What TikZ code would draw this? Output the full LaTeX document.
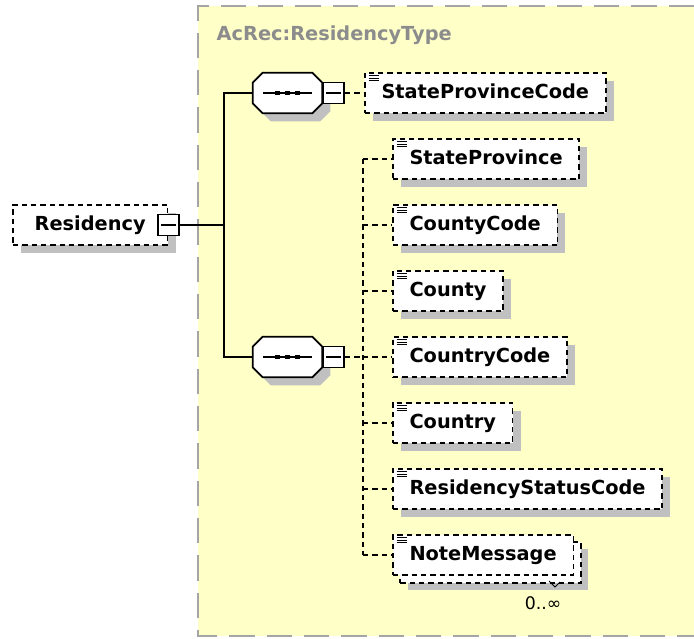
\documentclass[tikz,border=0pt]{standalone}
\usepackage{fontspec}
\setmainfont{DejaVu Sans}
\usepackage{tikz}
\usetikzlibrary{shadows}
\definecolor{schemabg}{RGB}{255,255,200}
\definecolor{shadowgray}{RGB}{192,192,192}
\definecolor{framegray}{RGB}{165,165,165}
\definecolor{titlegray}{RGB}{140,140,140}
\newcommand{\elemfont}{\fontsize{14.5}{17}\selectfont\bfseries}
\newcommand{\octopath}[1]{([xshift=7.5pt]#1.north west) -- ([xshift=-7.5pt]#1.north east) -- ([yshift=-7.5pt]#1.north east)
	-- ([yshift=7.5pt]#1.south east) -- ([xshift=-7.5pt]#1.south east) -- ([xshift=7.5pt]#1.south west)
	-- ([yshift=7.5pt]#1.south west) -- ([yshift=-7.5pt]#1.north west) -- cycle}
\newcommand{\seqshape}[1]{%
	\begin{scope}[transform canvas={xshift=6pt, yshift=-6pt}]
		\fill[shadowgray] \octopath{#1};
	\end{scope}
	\draw[line width=1.3pt, fill=white] \octopath{#1};
	\draw[line width=1.2pt] ([xshift=-18.4pt]#1.center) -- ([xshift=18.4pt]#1.center);
	\foreach \d in {-7.5pt,0pt,7.5pt}
		\fill ([xshift=\d-1.7pt, yshift=-1.7pt]#1.center) rectangle ++(3.4pt,3.4pt);}

\begin{document}
\begin{tikzpicture}[x=0.75pt, y=-0.75pt,
	link/.style={line width=1.3pt},
	optlink/.style={line width=1.3pt, dash pattern=on 4pt off 3pt},
	boxshadow/.style={drop shadow={shadow xshift=6pt, shadow yshift=-6pt, fill=shadowgray, opacity=1}},
	box/.style={draw, line width=1.3pt, dash pattern=on 4pt off 3pt, fill=white, anchor=west,
		minimum height=30.5pt, inner xsep=12.5pt, text height=11pt, text depth=3pt, font=\elemfont},
	elem/.style={box, path picture={
		\foreach \k in {2.4pt,4.3pt,6.2pt}
			\draw[solid, line width=0.8pt] ([xshift=2.8pt, yshift=-\k]path picture bounding box.north west) -- ++(8pt,0pt);}},
	seq/.style={minimum width=51.75pt, minimum height=30pt, inner sep=0pt},
	toggle/.style={draw, line width=1.3pt, fill=white, minimum size=15.75pt, inner sep=0pt,
		path picture={\draw[line width=0.9pt] ([xshift=-5.5pt]path picture bounding box.center) -- ([xshift=5.5pt]path picture bounding box.center);}}
	]
	\useasboundingbox (0,0) rectangle (694,639);
	% complex type frame
	\fill[schemabg] (198,6) rectangle (694,636);
	\draw[framegray, line width=1.5pt, dash pattern=on 19pt off 9pt] (694,6) -- (198,6) -- (198,636) -- (694,636);
	\node[anchor=west, font=\elemfont, text=titlegray] (title) at (212,35) {AcRec:ResidencyType};

	% root element
	\node[box, boxshadow, minimum width=116pt] (res) at (12,225) {Residency};
	\node[toggle] (resmin) at (res.east) {};

	% sequences
	\node[seq] (seqa) at (287.5,93) {};
	\seqshape{seqa}
	\node[toggle, anchor=west] (seqamin) at (seqa.east) {};
	\node[seq] (seqb) at (287.5,357) {};
	\seqshape{seqb}
	\node[toggle, anchor=west] (seqbmin) at (seqb.east) {};

	% child elements
	\node[elem, boxshadow] (spc) at (364,93) {StateProvinceCode};
	\foreach \name/\txt [count=\i] in {sp/StateProvince, cc/CountyCode, cy/County, cnc/CountryCode, cn/Country, rsc/ResidencyStatusCode}
		\node[elem, boxshadow] (\name) at (392,93+66*\i) {\txt};
	\node[elem, drop shadow={shadow xshift=11pt, shadow yshift=-11pt, fill=shadowgray, opacity=1},
		general shadow={shadow xshift=5.5pt, shadow yshift=-5.5pt, draw, line width=1.3pt, dash pattern=on 4pt off 3pt, fill=white}] (nm) at (392,555) {NoteMessage};
	\node[font=\fontsize{13}{15}\selectfont] (mult) at (543,603) {0..∞};
	\draw[line width=0.7pt] (549,581) -- (555,587) -- (560,582);

	% connectors
	\coordinate (fork) at (224,225);
	\draw[link] (resmin.east) -- (fork);
	\draw[link] (seqa.west) -| (fork) |- (seqb.west);
	\draw[optlink] (seqamin.east) -- (spc.west);
	\coordinate (bus) at (363,357);
	\draw[optlink] (seqbmin.east) -- (bus);
	\draw[optlink] (bus |- sp.west) -- (bus |- nm.west);
	\foreach \c in {sp,cc,cy,cnc,cn,rsc,nm}
		\draw[optlink] (bus |- \c.west) -- (\c.west);
\end{tikzpicture}
\end{document}
